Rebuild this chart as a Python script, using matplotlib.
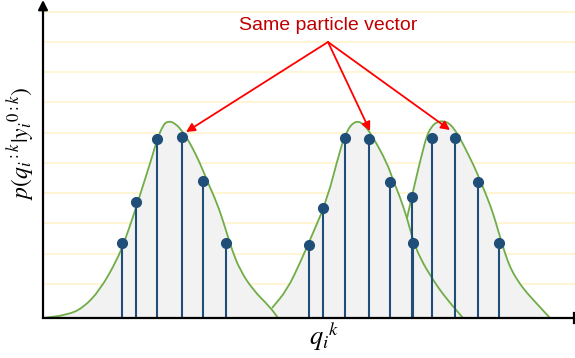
import matplotlib
matplotlib.use('Agg')

import numpy as np
import matplotlib.pyplot as plt
from matplotlib.path import Path
from matplotlib.patches import PathPatch

# density curves (x position, density height)
curve1_x = [0, 24, 40, 57, 74, 82, 90, 97, 104, 109, 114, 120, 125, 132,
            140, 147, 157, 165, 174, 182, 189, 197, 210, 227, 235]
curve1_y = [0, 3, 10, 28, 58, 78, 101, 123, 145, 161, 178, 193, 197, 195,
            186, 175, 155, 135, 115, 91, 68, 48, 28, 11, 0]

curve2_x = [229, 244, 257, 270, 284, 297, 304, 312, 320, 330, 344, 350,
            357, 364, 370, 377, 390, 402, 420]
curve2_y = [10, 28, 55, 85, 118, 168, 188, 197, 195, 181, 155, 138,
            121, 100, 78, 60, 38, 21, 0]

curve3_x = [364, 369, 375, 380, 384, 389, 394, 400, 406, 412, 418, 424,
            431, 437, 444, 450, 455, 460, 465, 470, 477, 484, 495, 507]
curve3_y = [100, 122, 148, 168, 183, 192, 196, 197, 195, 188, 178, 166,
            152, 138, 121, 105, 88, 71, 56, 45, 34, 25, 13, 0]

# particle samples
particles_x = [79, 93, 114, 139, 160, 183,
               266, 280, 302, 326, 347, 370,
               369, 389, 412, 435, 456]
particles_y = [75, 116, 179, 181, 137, 75,
               73, 110, 180, 179, 136, 75,
               121, 180, 180, 136, 75]

# arrows from the label to the repeated particle
arrow_src = (285, 276)
arrow_dst_x = [143, 327, 407]
arrow_dst_y = [186, 187, 188]

grid_levels = [34, 64, 95, 125, 155, 185, 216, 246, 276, 306]


def smooth_path(xs, ys, close=False):
    # quadratic bezier through midpoints of the control polygon
    pts = list(zip(xs, ys))
    verts = [pts[0]]
    codes = [Path.MOVETO]
    mid = lambda a, b: ((a[0] + b[0]) / 2, (a[1] + b[1]) / 2)
    verts.append(mid(pts[0], pts[1]))
    codes.append(Path.LINETO)
    for i in range(1, len(pts) - 1):
        verts += [pts[i], mid(pts[i], pts[i + 1])]
        codes += [Path.CURVE3, Path.CURVE3]
    verts.append(pts[-1])
    codes.append(Path.LINETO)
    if close:
        verts += [(xs[-1], 0), (xs[0], 0), pts[0]]
        codes += [Path.LINETO, Path.LINETO, Path.CLOSEPOLY]
    return Path(verts, codes)


plt.rcParams['mathtext.fontset'] = 'stix'

fig = plt.figure(figsize=(5.75, 3.58), dpi=100)
ax = fig.add_axes([0, 0, 1, 1])
ax.set_xlim(-43, 532)
ax.set_ylim(-40, 318)
ax.axis('off')

for g in grid_levels:
    ax.plot([0, 532], [g, g], color='#fff2cc', lw=1.2, zorder=0)

green = '#70ad47'
curves = [(curve1_x, curve1_y), (curve2_x, curve2_y), (curve3_x, curve3_y)]
for cx, cy in curves:
    ax.add_patch(PathPatch(smooth_path(cx, cy, close=True), facecolor='#f2f2f2',
                           edgecolor='none', zorder=1))
for cx, cy in curves:
    ax.add_patch(PathPatch(smooth_path(cx, cy), facecolor='none',
                           edgecolor=green, lw=1.3, zorder=2))

blue = '#1f4e79'
ax.vlines(particles_x, 0, particles_y, color=blue, lw=1.5, zorder=3)
ax.plot(particles_x, particles_y, 'o', color=blue, markersize=7, zorder=4)

# axes with arrow heads
ax.annotate('', xy=(0, 318), xytext=(0, 0),
            arrowprops=dict(arrowstyle='-|>', color='black', lw=1.6,
                            mutation_scale=14, shrinkA=0, shrinkB=0), zorder=5)
ax.plot([0, 531], [0, 0], color='black', lw=1.6, zorder=5)
ax.plot([531, 531], [-5, 5], color='black', lw=1.6, zorder=5)

for dx, dy in zip(arrow_dst_x, arrow_dst_y):
    ax.annotate('', xy=(dx, dy), xytext=arrow_src,
                arrowprops=dict(arrowstyle='-|>', color='red', lw=1.3,
                                mutation_scale=13, shrinkA=0, shrinkB=0),
                zorder=6)

ax.text(285, 293, 'Same particle vector', color='#c00000', fontsize=14,
        family='Liberation Sans', ha='center', va='center')

ax.text(281, -19, r'$q_{i}{}^{k}$', fontsize=19, ha='center', va='center')
ax.text(-22, 175, r'$p(q_{i}{}^{:k}|y_{i}{}^{0:k})$', fontsize=17,
        rotation=90, ha='center', va='center')

fig.savefig('out.png', dpi=100)
